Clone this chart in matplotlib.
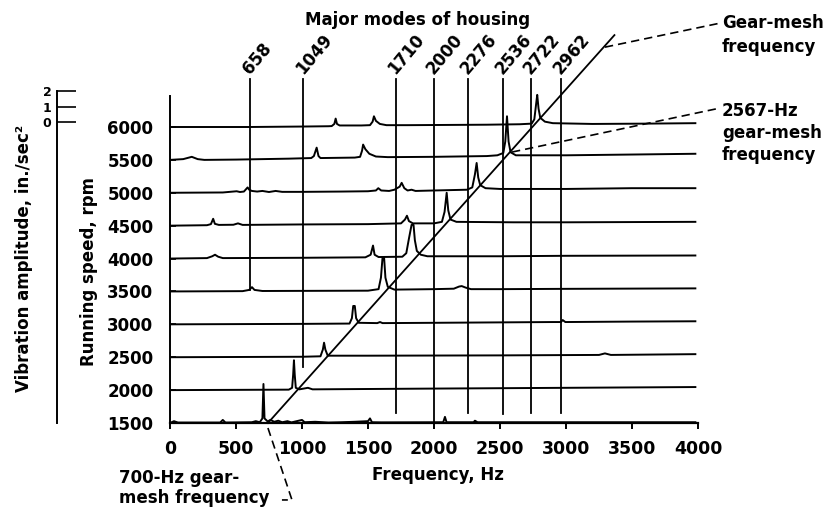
import matplotlib
matplotlib.use("Agg")
import matplotlib.pyplot as plt

plt.rcParams['font.family'] = ['DejaVu Sans']
plt.rcParams['font.weight'] = 'bold'
plt.rcParams['font.size'] = 12

# running speeds (rpm) of each spectrum row
speeds = [1500, 2000, 2500, 3000, 3500, 4000, 4500, 5000, 5500, 6000]

# spectrum vertices per row: (frequency Hz, amplitude in./sec^2)
spectra = {
    6000: [(0, 0), (600, 0.0), (1000, 0.03), (1200, 0.05), (1225, 0.06), (1245, 0.2), (1255, 0.55),
           (1265, 0.2), (1285, 0.1), (1450, 0.1), (1515, 0.12), (1535, 0.35), (1545, 0.7), (1560, 0.4),
           (1590, 0.2), (1640, 0.12), (1800, 0.12), (2400, 0.15), (2650, 0.18), (2740, 0.22), (2760, 0.5),
           (2775, 1.6), (2782, 2.1), (2792, 1.2), (2805, 0.6), (2840, 0.35), (2900, 0.25), (3200, 0.2),
           (3600, 0.22), (3980, 0.25)],
    5500: [(0, 0), (100, 0.05), (165, 0.2), (210, 0.05), (260, 0.0), (500, 0.02), (900, 0.08),
           (1070, 0.12), (1090, 0.25), (1111, 0.8), (1125, 0.25), (1140, 0.12), (1400, 0.15), (1440, 0.2),
           (1455, 0.6), (1463, 1.0), (1480, 0.7), (1510, 0.4), (1560, 0.22), (1650, 0.18), (2000, 0.2),
           (2400, 0.25), (2480, 0.3), (2525, 0.45), (2540, 1.2), (2553, 2.85), (2565, 1.2), (2580, 0.5),
           (2620, 0.3), (3000, 0.3), (3500, 0.35), (3980, 0.4)],
    5000: [(0, 0), (400, 0.02), (505, 0.1), (530, 0.05), (560, 0.08), (588, 0.35), (600, 0.2), (620, 0.12),
           (660, 0.08), (700, 0.12), (750, 0.05), (800, 0.12), (850, 0.06), (1000, 0.06), (1300, 0.08),
           (1500, 0.1), (1560, 0.15), (1578, 0.3), (1600, 0.15), (1660, 0.12), (1700, 0.2), (1740, 0.4),
           (1755, 0.65), (1775, 0.3), (1800, 0.15), (1830, 0.2), (1860, 0.12), (2000, 0.15), (2250, 0.2),
           (2290, 0.35), (2310, 1.2), (2323, 1.95), (2335, 1.0), (2350, 0.5), (2390, 0.3), (2500, 0.25),
           (3000, 0.25), (3500, 0.3), (3980, 0.3)],
    4500: [(0, 0), (280, 0.03), (310, 0.1), (327, 0.45), (340, 0.12), (370, 0.05), (480, 0.06),
           (515, 0.15), (550, 0.05), (1000, 0.08), (1500, 0.1), (1750, 0.15), (1780, 0.4), (1795, 0.65),
           (1810, 0.3), (1840, 0.15), (2000, 0.15), (2060, 0.25), (2080, 0.9), (2096, 2.15), (2108, 1.0),
           (2125, 0.4), (2170, 0.25), (2600, 0.22), (3000, 0.22), (3980, 0.25)],
    4000: [(0, 0), (280, 0.03), (320, 0.15), (341, 0.25), (365, 0.12), (400, 0.03), (1000, 0.05),
           (1480, 0.08), (1520, 0.25), (1538, 0.85), (1550, 0.25), (1580, 0.1), (1760, 0.12), (1790, 0.35),
           (1810, 1.3), (1830, 2.2), (1845, 2.2), (1855, 1.2), (1870, 0.5), (1900, 0.25), (1950, 0.15),
           (2500, 0.15), (3000, 0.18), (3980, 0.2)],
    3500: [(0, 0), (550, 0.02), (600, 0.1), (621, 0.28), (640, 0.1), (700, 0.03), (1500, 0.05),
           (1580, 0.15), (1598, 0.9), (1610, 2.2), (1622, 2.2), (1632, 0.9), (1650, 0.3), (1700, 0.12),
           (2000, 0.15), (2150, 0.18), (2190, 0.32), (2210, 0.35), (2240, 0.25), (2280, 0.15), (2500, 0.15),
           (3000, 0.17), (3980, 0.2)],
    3000: [(0, 0), (1000, 0.03), (1360, 0.05), (1378, 0.4), (1388, 1.2), (1400, 1.2), (1410, 0.4),
           (1430, 0.1), (1570, 0.08), (1591, 0.15), (1610, 0.08), (2000, 0.1), (2900, 0.15), (2962, 0.15),
           (2975, 0.28), (2995, 0.15), (3500, 0.18), (3980, 0.2)],
    2500: [(0, 0), (1000, 0.03), (1140, 0.06), (1158, 0.5), (1167, 0.95), (1177, 0.5), (1195, 0.1),
           (1500, 0.1), (2500, 0.12), (3250, 0.15), (3295, 0.25), (3340, 0.15), (3980, 0.2)],
    2000: [(0, 0), (900, 0.03), (925, 0.15), (933, 1.0), (939, 1.95), (945, 1.0), (953, 0.15),
           (980, 0.05), (1045, 0.15), (1080, 0.05), (2000, 0.1), (3000, 0.15), (3980, 0.2)],
    1500: [(0, 0), (30, 0.12), (60, 0.03), (380, 0.03), (400, 0.2), (420, 0.03), (620, 0.05),
           (650, 0.12), (680, 0.05), (700, 0.3), (708, 2.55), (716, 0.3), (740, 0.1), (760, 0.2),
           (790, 0.08), (820, 0.15), (850, 0.05), (890, 0.12), (920, 0.04), (1000, 0.2), (1020, 0.05),
           (1100, 0.08), (1200, 0.03), (1300, 0.05), (1400, 0.08), (1500, 0.12), (1515, 0.3), (1530, 0.05),
           (1600, 0.04), (2070, 0.05), (2083, 0.4), (2095, 0.05), (2300, 0.05), (2310, 0.15), (2330, 0.05),
           (3980, 0.05)],
}

# housing modes: labels and where the lines are drawn, with their lower ends (rpm)
mode_labels = ['658', '1049', '1710', '2000', '2276', '2536', '2722', '2962']
mode_freqs = [606, 1008, 1712, 2000, 2258, 2523, 2735, 2962]
mode_bottoms = [3520, 2350, 1650, 1520, 1650, 1630, 1650, 1650]
mode_top = 6728

# gear-mesh frequency line
gm_freq = [742, 3367]
gm_rpm = [1500, 7397]

# leaders
lead_gm = ([3295, 4167], [7214, 7579])
lead_2567 = ([2591, 4167], [5619, 6288])
lead_700 = ([742, 924, 848], [1424, 330, 330])

freq_ticks = [0, 500, 1000, 1500, 2000, 2500, 3000, 3500, 4000]

W, H = 839, 515
PX_PER_RPM = 296 / 4500
YTOP = 1500 + (423 - 30) / PX_PER_RPM
AMP = 15.3 / PX_PER_RPM
ZERO = 1500 + (423 - 122) / PX_PER_RPM

fig = plt.figure(figsize=(W / 100, H / 100), dpi=100)
ax = fig.add_axes([170 / W, 1 - 423 / H, 528 / W, (423 - 30) / H])
ax.set_xlim(0, 4000)
ax.set_ylim(1500, YTOP)

for rpm in speeds:
    pts = spectra[rpm]
    ax.plot([p[0] for p in pts], [rpm + p[1] * AMP for p in pts], color='black', lw=1.4,
            solid_joinstyle='round')

for f, b in zip(mode_freqs, mode_bottoms):
    ax.plot([f, f], [b, mode_top], color='black', lw=1.3, clip_on=False)
for f, lab in zip(mode_freqs, mode_labels):
    ax.annotate(lab, xy=(f, mode_top), xytext=(-3, 5), textcoords='offset points',
                rotation=50, rotation_mode='anchor', ha='left', va='center',
                fontsize=12, fontweight='bold', annotation_clip=False)

ax.plot(gm_freq, gm_rpm, color='black', lw=1.3, clip_on=False)
for lx, ly in (lead_gm, lead_2567, lead_700):
    ax.plot(lx, ly, color='black', lw=1.2, ls=(0, (5, 3)), clip_on=False)

for s in ['top', 'right']:
    ax.spines[s].set_visible(False)
ax.spines['left'].set_bounds(1500, 6470)
ax.spines['left'].set_linewidth(1.4)
ax.spines['bottom'].set_linewidth(1.6)

ax.set_xticks(freq_ticks)
ax.set_xticklabels([str(t) for t in freq_ticks])
ax.tick_params(axis='x', direction='out', length=4, width=1.4, pad=8, labelsize=12.5)
ax.set_yticks(speeds)
ax.set_yticklabels([str(s) for s in speeds])
ax.tick_params(axis='y', direction='in', length=4, width=1.2, pad=12, labelsize=12)

# amplitude scale
ax2 = ax.twinx()
ax2.set_ylim((1500 - ZERO) / AMP, (YTOP - ZERO) / AMP)
for s in ['top', 'right', 'bottom']:
    ax2.spines[s].set_visible(False)
ax2.spines['left'].set_visible(True)
ax2.spines['left'].set_position(('axes', -113 / 528))
ax2.spines['left'].set_bounds((1500 - ZERO) / AMP, 2)
ax2.spines['left'].set_linewidth(1.4)
ax2.yaxis.set_ticks_position('left')
ax2.set_yticks([0, 1, 2])
ax2.set_yticklabels(['0', '1', '2'])
ax2.tick_params(axis='y', direction='in', length=13.5, width=1.2, pad=4, labelsize=9)

def px(x, y):
    return x / W, 1 - y / H

fig.text(*px(418, 20), 'Major modes of housing', ha='center', va='center', fontweight='bold')
fig.text(*px(438, 475), 'Frequency, Hz', ha='center', va='center', fontweight='bold')
fig.text(*px(89, 272), 'Running speed, rpm', rotation=90, ha='center', va='center', fontweight='bold')
fig.text(*px(24, 258), 'Vibration amplitude, in./sec²', rotation=90, ha='center', va='center',
         fontweight='bold')
fig.text(*px(722, 14), 'Gear-mesh\nfrequency', ha='left', va='top', fontweight='bold', linespacing=1.45)
fig.text(*px(722, 102), '2567-Hz\ngear-mesh\nfrequency', ha='left', va='top', fontweight='bold',
         linespacing=1.3)
fig.text(*px(119, 469), '700-Hz gear-\nmesh frequency', ha='left', va='top', fontweight='bold',
         linespacing=1.15)

fig.savefig('out.png', dpi=100)
